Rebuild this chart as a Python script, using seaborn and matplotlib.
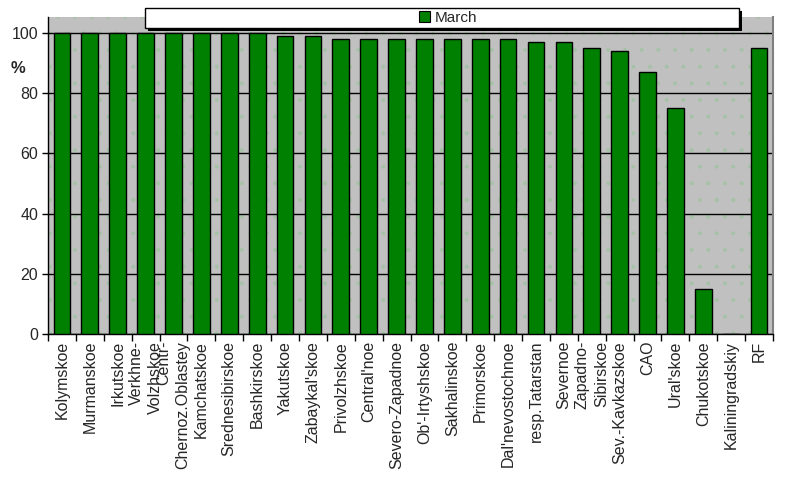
import numpy as np
import pandas as pd
import matplotlib
matplotlib.use("Agg")
import matplotlib.pyplot as plt
import matplotlib.patches as mpatches
import seaborn as sns

categories = ["Kolymskoe", "Murmanskoe", "Irkutskoe", "Verkhne-\nVolzhskoe",
              "Centr-\nChernoz.Oblastey", "Kamchatskoe", "Srednesibirskoe",
              "Bashkirskoe", "Yakutskoe", "Zabaykal'skoe", "Privolzhskoe",
              "Central'noe", "Severo-Zapadnoe", "Ob'-Irtyshskoe", "Sakhalinskoe",
              "Primorskoe", "Dal'nevostochnoe", "resp.Tatarstan", "Severnoe",
              "Zapadno-\nSibirskoe", "Sev.-Kavkazskoe", "CAO", "Ural'skoe",
              "Chukotskoe", "Kaliningradskiy", "RF"]
march = [100, 100, 100, 100, 100, 100, 100, 100, 99, 99, 98, 98, 98, 98, 98,
         98, 98, 97, 97, 95, 94, 87, 75, 15, 0, 95]
series_name = "March"
yticks = [0, 20, 40, 60, 80, 100]

sns.set_style("white")
plt.rcParams['font.family'] = ['Liberation Sans', 'DejaVu Sans']
plt.rcParams['hatch.linewidth'] = 0.4

df = pd.DataFrame({"region": categories, "value": march})

fig = plt.figure(figsize=(8, 4.79), dpi=100)
fig.patch.set_facecolor("white")
ax = fig.add_axes([48/800, 1-334/479, 725/800, 317/479])
ax.set_facecolor("#C0C0C0")

# dotted texture
tex = mpatches.Rectangle((0, 0), 1, 1, transform=ax.transAxes, facecolor="none",
                         edgecolor="#a6c2a6", hatch=".", linewidth=0, zorder=0)
ax.add_patch(tex)

sns.barplot(data=df, x="region", y="value", color="#008000", saturation=1,
            width=0.6, edgecolor="black", linewidth=1, ax=ax, zorder=3)

ax.set_xlim(-0.5, len(categories) - 0.5)
ax.set_ylim(0, 105.3)
ax.set_yticks(yticks)
ax.set_yticklabels([str(t) for t in yticks], fontsize=11.5)
ax.yaxis.grid(True, color="black", linewidth=1)
ax.set_axisbelow(True)
ax.tick_params(axis="y", left=True, length=4, width=1, color="black", pad=3)

ax.set_xticks(range(len(categories)))
ax.set_xticklabels(categories, rotation=90, fontsize=11.5, linespacing=1.35)
for lab in ax.get_xticklabels():
    lab.set_multialignment("right")
ax.tick_params(axis="x", which="major", length=0, pad=5)
ax.set_xticks(np.arange(-0.5, len(categories), 1), minor=True)
ax.tick_params(axis="x", which="minor", bottom=True, length=5, width=1, color="black")
ax.set_xlabel("")

ax.set_ylabel("%", rotation=0, fontweight="bold", fontsize=12, ha="center", va="center")
ax.yaxis.set_label_coords(-0.041, 0.839)

for s in ["left", "bottom"]:
    ax.spines[s].set_color("black")
    ax.spines[s].set_linewidth(1)
ax.spines["top"].set_visible(False)
ax.spines["right"].set_color("#808080")
ax.spines["right"].set_linewidth(1.5)

# legend box with shadow
x0, y0, w, h = 145/800, 1-28/479, 594/800, 20/479
shadow = mpatches.Rectangle((x0 + 3/800, y0 - 3/479), w, h, transform=fig.transFigure,
                            facecolor="black", edgecolor="none", zorder=5)
box = mpatches.Rectangle((x0, y0), w, h, transform=fig.transFigure,
                         facecolor="white", edgecolor="black", linewidth=1, zorder=6)
fig.patches.extend([shadow, box])
handle = mpatches.Patch(facecolor="#008000", edgecolor="black", linewidth=0.8)
leg = fig.legend([handle], [series_name], loc="center",
                 bbox_to_anchor=(x0 + w/2 + 6/800, y0 + h/2), frameon=False,
                 fontsize=11, handlelength=0.7, handleheight=0.7, handletextpad=0.3,
                 borderpad=0)
leg.set_zorder(7)

fig.savefig("out.png", dpi=100)
